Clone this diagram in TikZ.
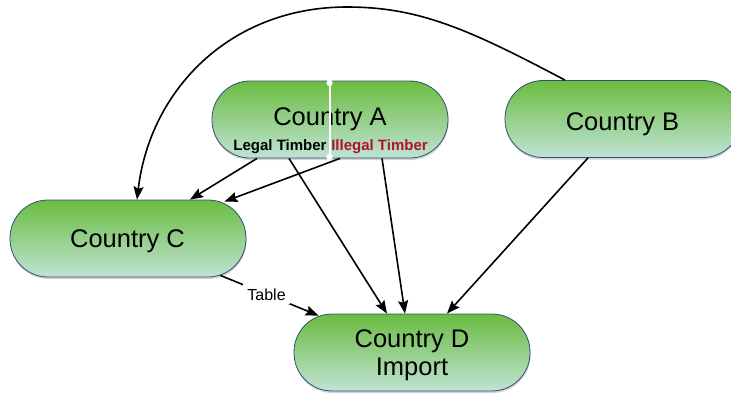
\documentclass[tikz,border=0pt]{standalone}
\usepackage{fontspec}
\setmainfont{Liberation Sans}
\usetikzlibrary{shadows,arrows.meta,calc}
\definecolor{gtop}{RGB}{106,188,64}
\definecolor{gbot}{RGB}{192,227,212}
\definecolor{bord}{RGB}{52,78,120}
\definecolor{illegal}{RGB}{178,18,40}
\begin{document}
\begin{tikzpicture}[x=1pt,y=-1pt,
  country/.style={rectangle, rounded corners=38pt, minimum width=236pt, minimum height=77pt,
    draw=bord, line width=0.8pt, top color=gtop, bottom color=gbot,
    drop shadow={shadow xshift=0.5pt, shadow yshift=-2pt, opacity=0.35}, inner sep=0pt},
  ctext/.style={anchor=base, font=\fontsize{25.5}{29}\selectfont, inner sep=0pt},
  flow/.style={line width=1.6pt, -{Stealth[length=13pt,width=10pt,inset=2pt]}},
  timber/.style={font=\bfseries\fontsize{15}{18}\selectfont, inner sep=0pt, anchor=base}]
\useasboundingbox (0,0) rectangle (731,394);
\node[country] (A) at (330,119.5) {};
\node[country] (B) at (623,119) {};
\node[country] (C) at (128,238.5) {};
\node[country] (D) at (412,352.5) {};
\node[ctext] (Alab) at (330,125) {Country A};
\node[ctext] (Blab) at (622.5,130) {Country B};
\node[ctext] (Clab) at (127.5,247) {Country C};
\node[ctext] (Dlab1) at (412,347) {Country D};
\node[ctext] (Dlab2) at (412,375.5) {Import};
\draw[white, line width=2pt] (329.5,83) coordinate (dtop) -- (329.5,157) coordinate (dbot);
\fill[white] (dtop) circle (3.2pt) (dbot) circle (3.2pt);
\node[timber] (legal) at (280,150) {Legal Timber};
\node[timber, text=illegal] (illegal) at (379.5,150) {Illegal Timber};
% connectors
\draw[flow] ([xshift=-58pt]B.north) .. controls (470,30) and (420,7) .. (347,7)
  .. controls (230,7) and (150,90) .. ([xshift=9pt]C.north);
\draw[flow] ([xshift=-73pt]A.south) -- ([xshift=62pt]C.north);
\draw[flow] ([xshift=10pt]A.south) -- ($(C.north east)+(-22,2)$);
\draw[flow] ([xshift=-41pt]A.south) -- ([xshift=-25pt]D.north);
\draw[flow] ([xshift=52pt]A.south) -- ([xshift=-7pt]D.north);
\draw[flow] ([xshift=-35pt]B.south) -- ([xshift=35pt]D.north);
\draw[flow] ($(C.south east)+(-26,-2)$) -- node[pos=0.47, fill=white, inner sep=4pt,
  font=\fontsize{16}{19}\selectfont] (tablelab) {Table} ($(D.north west)+(25,2)$);
\end{tikzpicture}
\end{document}
